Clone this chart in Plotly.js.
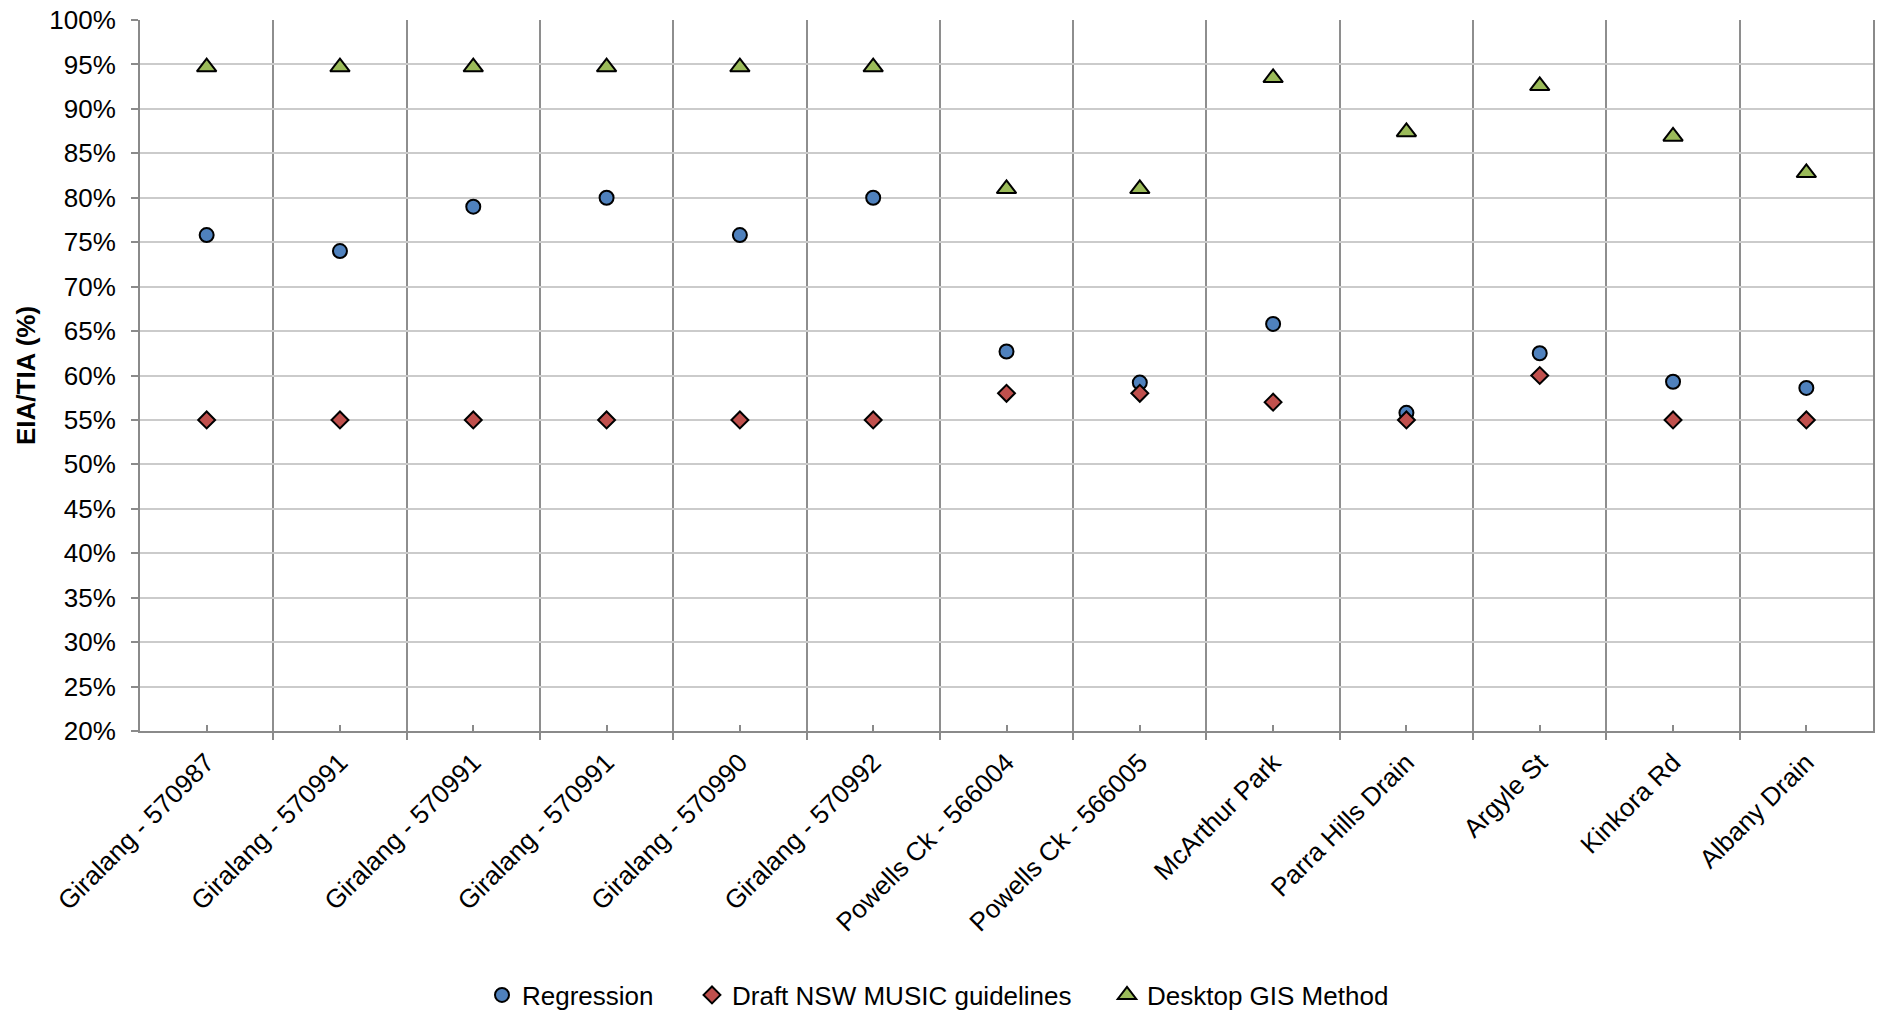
<!DOCTYPE html>
<html><head><meta charset="utf-8">
<script src="https://cdn.plot.ly/plotly-3.0.1.min.js"></script>
<style>html,body{margin:0;padding:0;background:#fff;} #chart{width:1877px;height:1011px;}</style>
</head><body><div id="chart"></div>
<script>
const categories = ["Giralang - 570987","Giralang - 570991","Giralang - 570991","Giralang - 570991","Giralang - 570990","Giralang - 570992","Powells Ck - 566004","Powells Ck - 566005","McArthur Park","Parra Hills Drain","Argyle St","Kinkora Rd","Albany Drain"];
const regression = [75.8,74.0,79.0,80.0,75.8,80.0,62.7,59.2,65.8,55.8,62.5,59.3,58.6];
const draftNSW = [55,55,55,55,55,55,58,58,57,55,60,55,55];
const desktopGIS = [94.7,94.7,94.7,94.7,94.7,94.7,81.0,81.0,93.5,87.4,92.6,86.9,82.8];
const seriesNames = ["Regression","Draft NSW MUSIC guidelines","Desktop GIS Method"];
const yTickVals = [20,25,30,35,40,45,50,55,60,65,70,75,80,85,90,95,100];
const yTickLabels = ["20%","25%","30%","35%","40%","45%","50%","55%","60%","65%","70%","75%","80%","85%","90%","95%","100%"];

const xIdx = categories.map((c,i)=>i);
const FONT = "Liberation Sans, Arial, sans-serif";
const line = {color:'#000', width:2};

const traces = [
  {x:xIdx, y:regression, name:seriesNames[0], type:'scatter', mode:'markers', legend:'legend',
   marker:{symbol:'circle', size:14, color:'#4F81BD', line:line}},
  {x:xIdx, y:draftNSW, name:seriesNames[1], type:'scatter', mode:'markers', legend:'legend2',
   marker:{symbol:'diamond', size:13, color:'#C0504D', line:line}},
  {x:xIdx, y:desktopGIS, name:seriesNames[2], type:'scatter', mode:'markers', legend:'legend3',
   marker:{symbol:'triangle-up', size:17, color:'#9BBB59', line:line}}
];

function leg(x){
  return {orientation:'h', xref:'container', yref:'container', x:x, xanchor:'left',
          y:1-995/1011, yanchor:'middle', font:{family:FONT, size:26, color:'#000'},
          bgcolor:'rgba(0,0,0,0)', borderwidth:0};
}

const layout = {
  width:1877, height:1011,
  margin:{l:140, r:4, t:20, b:280},
  paper_bgcolor:'#fff', plot_bgcolor:'#fff',
  font:{family:FONT, size:26, color:'#000'},
  showlegend:true,
  legend:leg(482/1877),
  legend2:leg(692/1877),
  legend3:leg(1107/1877),
  xaxis:{
    range:[-0.5,12.5], tickmode:'array', tickvals:xIdx, ticktext:categories,
    tickangle:-45, ticks:'inside', ticklen:6, tickwidth:2, tickcolor:'#8a8a8a',
    showgrid:false, zeroline:false, showline:true, linecolor:'#8a8a8a', linewidth:2,
    tickfont:{family:FONT, size:26, color:'#000'}, ticklabelstandoff:4,
    minor:{tickmode:'linear', tick0:0.5, dtick:1, ticks:'outside', ticklen:7, tickwidth:2,
           tickcolor:'#8a8a8a', showgrid:true, gridcolor:'#8e8e8e', gridwidth:2},
    fixedrange:true
  },
  yaxis:{
    range:[20,100], tickmode:'array', tickvals:yTickVals, ticktext:yTickLabels,
    ticks:'outside', ticklen:7, tickwidth:2, tickcolor:'#8a8a8a',
    showgrid:true, gridcolor:'#cbcbcb', gridwidth:2, zeroline:false,
    showline:true, linecolor:'#8a8a8a', linewidth:2, mirror:true,
    tickfont:{family:FONT, size:26, color:'#000'}, ticklabelstandoff:10,
    title:{text:'<b>EIA/TIA (%)</b>', font:{family:FONT, size:26, color:'#000'}, standoff:6},
    fixedrange:true
  }
};

Plotly.newPlot('chart', traces, layout, {displayModeBar:false, staticPlot:true});
</script>
</body></html>
